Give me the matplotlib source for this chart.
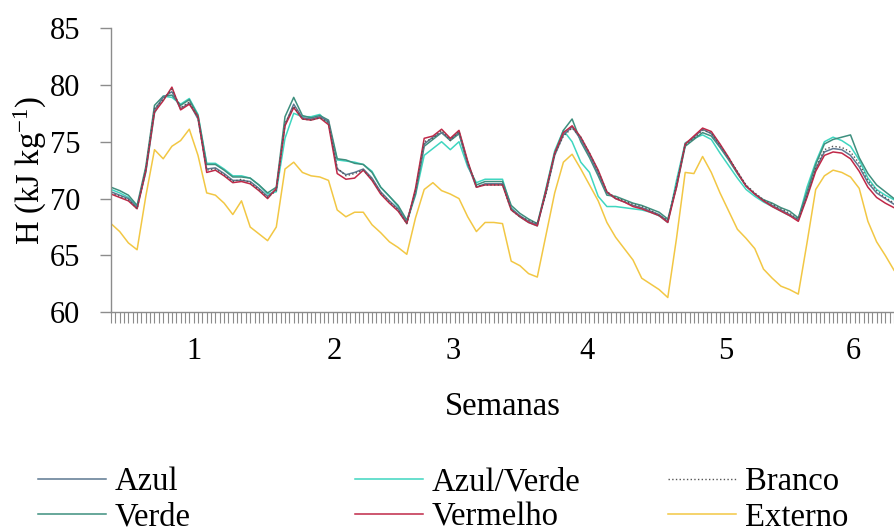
import matplotlib
matplotlib.use('Agg')
import matplotlib.pyplot as plt
from matplotlib.ticker import MultipleLocator, NullLocator
import numpy as np

# ---- data (one sample every two minor ticks) ----
semanas_labels = ['1', '2', '3', '4', '5', '6']
semanas_pos = [9.54, 25.63, 39.31, 54.71, 70.69, 85.29]

azul = [70.6, 70.3, 70.0, 69.2, 72.5, 77.8, 78.9, 79.4, 77.9, 78.4,
        77.0, 72.6, 72.7, 72.2, 71.6, 71.6, 71.5, 70.9, 70.2, 70.8,
        76.5, 78.3, 77.1, 77.0, 77.2, 76.8, 72.6, 72.1, 72.3, 72.6,
        71.8, 70.6, 69.8, 69.1, 67.9, 70.6, 74.8, 75.4, 75.8, 75.2,
        75.8, 73.0, 71.0, 71.3, 71.3, 71.3, 69.1, 68.5, 68.0, 67.7,
        70.5, 73.8, 75.6, 76.3, 75.2, 73.8, 72.2, 70.5, 70.0, 69.7,
        69.4, 69.2, 68.9, 68.6, 68.0, 71.2, 74.8, 75.4, 76.1, 75.7,
        74.6, 73.5, 72.3, 71.1, 70.4, 69.8, 69.4, 69.0, 68.6, 68.1,
        70.3, 72.6, 74.1, 74.4, 74.3, 73.8, 72.8, 71.4, 70.5, 70.0, 69.5]

branco = [70.5, 70.2, 69.9, 69.1, 72.6, 77.9, 78.7, 79.6, 78.0, 78.5,
          77.1, 72.5, 72.6, 72.1, 71.5, 71.7, 71.4, 70.8, 70.1, 70.7,
          76.6, 78.1, 77.0, 76.9, 77.1, 76.7, 72.7, 72.0, 72.2, 72.5,
          71.7, 70.5, 69.7, 69.0, 67.8, 70.7, 75.0, 75.3, 76.0, 75.1,
          75.9, 73.2, 71.1, 71.2, 71.2, 71.2, 69.0, 68.4, 68.1, 67.8,
          70.4, 73.9, 75.5, 76.2, 75.4, 74.0, 72.4, 70.6, 70.1, 69.8,
          69.5, 69.3, 69.0, 68.5, 68.1, 71.3, 74.7, 75.3, 76.0, 75.8,
          74.7, 73.6, 72.4, 71.2, 70.5, 69.9, 69.5, 69.1, 68.7, 68.2,
          70.2, 72.7, 74.3, 74.6, 74.5, 74.1, 73.1, 71.6, 70.7, 70.1, 69.6]

verde = [71.0, 70.7, 70.3, 69.4, 72.8, 78.2, 79.0, 79.1, 78.2, 78.7,
         77.3, 73.0, 73.0, 72.5, 71.9, 71.9, 71.8, 71.2, 70.5, 71.0,
         77.2, 78.9, 77.3, 77.1, 77.3, 76.9, 73.5, 73.4, 73.1, 73.0,
         72.3, 71.0, 70.2, 69.4, 68.1, 70.4, 74.6, 75.2, 75.8, 75.1,
         75.7, 73.1, 71.2, 71.5, 71.5, 71.5, 69.4, 68.7, 68.2, 67.8,
         70.8, 74.0, 76.0, 77.0, 75.0, 73.6, 72.0, 70.3, 70.2, 69.9,
         69.6, 69.4, 69.1, 68.8, 68.2, 71.0, 74.6, 75.2, 75.8, 75.5,
         74.5, 73.4, 72.2, 71.1, 70.4, 69.9, 69.6, 69.2, 68.9, 68.3,
         70.6, 73.0, 74.8, 75.2, 75.4, 75.6, 73.6, 72.2, 71.2, 70.6, 70.0]

azul_verde = [70.8, 70.5, 70.1, 69.3, 72.3, 77.5, 79.0, 78.9, 78.3, 78.8,
              77.4, 73.1, 73.1, 72.6, 72.0, 72.0, 71.8, 71.2, 70.4, 70.6,
              75.3, 77.5, 77.2, 77.2, 77.4, 76.6, 73.4, 73.3, 73.2, 73.0,
              72.4, 71.0, 70.2, 69.3, 67.9, 70.3, 73.8, 74.4, 75.0, 74.3,
              75.0, 72.8, 71.4, 71.7, 71.7, 71.7, 69.2, 68.4, 67.9, 67.6,
              70.9, 74.2, 76.0, 75.0, 73.2, 72.3, 70.2, 69.3, 69.3, 69.2,
              69.1, 69.0, 68.8, 68.5, 67.9, 71.6, 74.9, 75.3, 75.6, 75.2,
              74.0, 72.9, 71.8, 70.8, 70.2, 69.7, 69.3, 68.9, 68.5, 68.2,
              71.0, 73.2, 75.0, 75.4, 75.1, 74.6, 73.4, 71.8, 70.8, 70.3, 69.9]

vermelho = [70.4, 70.1, 69.8, 69.1, 72.4, 77.6, 78.6, 79.8, 77.8, 78.3,
            77.2, 72.3, 72.5, 72.0, 71.4, 71.5, 71.3, 70.7, 70.0, 70.9,
            76.4, 78.0, 77.0, 76.9, 77.1, 76.5, 72.2, 71.7, 71.8, 72.5,
            71.6, 70.4, 69.6, 68.9, 67.8, 70.9, 75.3, 75.5, 76.1, 75.3,
            76.0, 73.3, 71.0, 71.2, 71.2, 71.2, 69.0, 68.4, 67.9, 67.6,
            70.7, 74.0, 75.8, 76.4, 75.4, 74.0, 72.5, 70.6, 70.0, 69.7,
            69.3, 69.1, 68.8, 68.5, 67.9, 71.0, 74.8, 75.5, 76.2, 75.9,
            74.8, 73.6, 72.3, 71.1, 70.4, 69.8, 69.3, 68.9, 68.5, 68.0,
            70.1, 72.4, 73.8, 74.1, 74.0, 73.5, 72.4, 71.0, 70.1, 69.6, 69.2]

externo = [67.8, 67.1, 66.1, 65.5, 70.2, 74.3, 73.5, 74.6, 75.1, 76.1,
           73.8, 70.5, 70.3, 69.6, 68.6, 69.8, 67.5, 66.9, 66.3, 67.5,
           72.6, 73.2, 72.3, 72.0, 71.9, 71.6, 69.0, 68.4, 68.8, 68.8,
           67.7, 67.0, 66.2, 65.7, 65.1, 68.3, 70.8, 71.4, 70.7, 70.4,
           70.0, 68.4, 67.1, 67.9, 67.9, 67.8, 64.5, 64.1, 63.4, 63.1,
           66.8, 70.5, 73.2, 73.9, 72.6, 71.2, 69.8, 67.9, 66.6, 65.6,
           64.6, 63.0, 62.5, 62.0, 61.3, 66.5, 72.3, 72.2, 73.7, 72.3,
           70.5, 68.9, 67.3, 66.5, 65.6, 63.8, 63.0, 62.3, 62.0, 61.6,
           66.1, 70.8, 72.0, 72.5, 72.3, 71.9, 70.9, 68.0, 66.2, 65.0, 63.7]

# ---- style ----
plt.rcParams['font.family'] = ['Liberation Serif', 'DejaVu Serif']
plt.rcParams['mathtext.fontset'] = 'custom'
plt.rcParams['mathtext.rm'] = 'Liberation Serif'
plt.rcParams['mathtext.it'] = 'Liberation Serif:italic'

AX_GRAY = '#8c8c8c'
FS = 22
FS_BIG = 23.5

fig = plt.figure(figsize=(8.94, 5.31), dpi=100)
ax = fig.add_axes([0.12416, 0.41186, 0.87584, 0.53540])

x = np.arange(len(azul))
h = {}
h['Externo'], = ax.plot(x, externo, color='#f2c744', lw=1.1, label='Externo')
h['Azul/Verde'], = ax.plot(x, azul_verde, color='#3fd6c0', lw=1.1, label='Azul/Verde')
h['Verde'], = ax.plot(x, verde, color='#3d8f7e', lw=1.1, label='Verde')
h['Azul'], = ax.plot(x, azul, color='#5d7891', lw=1.1, label='Azul')
h['Vermelho'], = ax.plot(x, vermelho, color='#c02848', lw=1.1, label='Vermelho')
h['Branco'], = ax.plot(x, branco, color='#555555', lw=1.0, ls=':', label='Branco')

ax.set_xlim(0, len(azul) - 1)
ax.set_ylim(60, 85)

for s in ['top', 'right']:
    ax.spines[s].set_visible(False)
for s in ['left', 'bottom']:
    ax.spines[s].set_color(AX_GRAY)
    ax.spines[s].set_linewidth(1.0)

ax.set_yticks([60, 65, 70, 75, 80, 85])
ax.yaxis.set_minor_locator(NullLocator())
ax.tick_params(axis='y', direction='out', length=8, width=1, color=AX_GRAY,
               pad=14, labelsize=FS)

ax.set_xticks(semanas_pos)
ax.set_xticklabels(semanas_labels)
ax.xaxis.set_minor_locator(MultipleLocator(0.5))
ax.tick_params(axis='x', which='major', length=0, pad=18, labelsize=FS)
ax.tick_params(axis='x', which='minor', direction='out', length=8, width=0.8,
               color=AX_GRAY)

ax.set_xlabel('Semanas', fontsize=FS_BIG, labelpad=18)
ax.set_ylabel(r'H (kJ kg$^{-1}$)', fontsize=FS_BIG, labelpad=1)

cols = [(['Azul', 'Verde'], 0.042),
        (['Azul/Verde', 'Vermelho'], 0.397),
        (['Branco', 'Externo'], 0.747)]
for names, xa in cols:
    fig.legend(handles=[h[n] for n in names], labels=names, loc='upper left',
               bbox_to_anchor=(xa, 0.121), frameon=False, borderpad=0,
               borderaxespad=0, handlelength=2.1, handletextpad=0.25,
               labelspacing=0.15, fontsize=FS_BIG)

fig.savefig('out.png', dpi=100, facecolor='white')
